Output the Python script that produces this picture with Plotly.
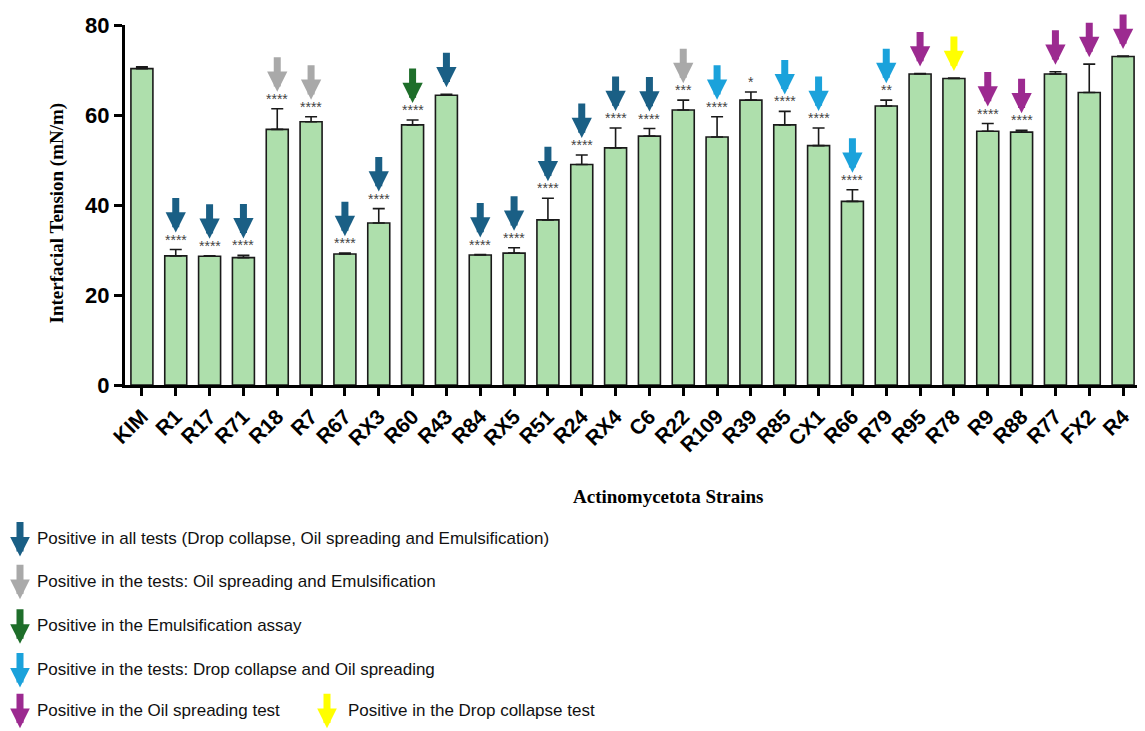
import plotly.graph_objects as go

strains = ["KIM", "R1", "R17", "R71", "R18", "R7", "R67", "RX3", "R60", "R43",
           "R84", "RX5", "R51", "R24", "RX4", "C6", "R22", "R109", "R39", "R85",
           "CX1", "R66", "R79", "R95", "R78", "R9", "R88", "R77", "FX2", "R4"]
means = [70.3, 28.7, 28.6, 28.3, 56.8, 58.5, 29.1, 36.0, 57.8, 64.4,
         28.9, 29.3, 36.7, 49.0, 52.7, 55.3, 61.1, 55.1, 63.3, 57.8,
         53.2, 40.8, 62.0, 69.1, 68.1, 56.4, 56.2, 69.1, 65.0, 73.0]
errs = [0.4, 1.4, 0.1, 0.5, 4.6, 1.1, 0.2, 3.2, 1.1, 0.2,
        0.1, 1.2, 4.8, 2.1, 4.4, 1.7, 2.2, 4.5, 1.8, 3.0,
        3.9, 2.6, 1.3, 0.1, 0.1, 1.7, 0.4, 0.5, 6.3, 0.1]
stars = ["", "****", "****", "****", "****", "****", "****", "****", "****", "",
         "****", "****", "****", "****", "****", "****", "***", "****", "*", "****",
         "****", "****", "**", "", "", "****", "****", "", "", ""]
arrows = [None, "all", "all", "all", "oil_emul", "oil_emul", "all", "all", "emul", "all",
          "all", "all", "all", "all", "all", "all", "oil_emul", "drop_oil", None, "drop_oil",
          "drop_oil", "drop_oil", "drop_oil", "oil", "drop", "oil", "oil", "oil", "oil", "oil"]

legend_keys = ["all", "oil_emul", "emul", "drop_oil", "oil", "drop"]
legend_labels = ["Positive in all tests (Drop collapse, Oil spreading and Emulsification)",
                 "Positive in the tests: Oil spreading and Emulsification",
                 "Positive in the Emulsification assay",
                 "Positive in the tests: Drop collapse and Oil spreading",
                 "Positive in the Oil spreading test",
                 "Positive in the Drop collapse test"]
arrow_colors = {"all": "#1a5f85", "oil_emul": "#a9a9a9", "emul": "#1e6e2a",
                "drop_oil": "#1ba2db", "oil": "#9c2a90", "drop": "#ffff00"}

OFF = 8  # default page body margin
W, H = 1145 - OFF, 731 - OFF
L, R, T, B = 125 - OFF, 5, 22 - OFF, 346
PW, PH = W - L - R, H - T - B

def px2x(px):
    return (px - OFF - L) / PW

def py2y(py):
    return (H - B - (py - OFF)) / PH

fig = go.Figure()
fig.add_trace(go.Bar(
    x=strains, y=means, width=0.65,
    marker=dict(color="#aedfac", line=dict(color="#1a1a1a", width=1.6)),
    error_y=dict(type="data", symmetric=False, array=errs,
                 arrayminus=[0] * len(errs), color="#1a1a1a", thickness=1.6, width=6),
    showlegend=False,
))

annotations = []
for s, m, e, st, a in zip(strains, means, errs, stars, arrows):
    top = m + e
    if st:
        annotations.append(dict(x=s, y=top, xref="x", yref="y", text=st, showarrow=False,
                                yanchor="bottom", yshift=0,
                                font=dict(family="Liberation Sans", size=14, color="#444444")))
    if a:
        so = 17 if st else 7
        annotations.append(dict(x=s, y=top, xref="x", yref="y", text="", showarrow=True,
                                ax=0, ay=-(so + 36), standoff=so, arrowhead=2,
                                arrowwidth=7, arrowsize=0.58, arrowcolor=arrow_colors[a]))

# legend
rows_y = [540, 583, 628, 672, 713, 713]
arrow_x = [20, 20, 20, 20, 20, 327]
text_x = [35, 35, 35, 35, 35, 346]
for k, lab, ry, axp, tx in zip(legend_keys, legend_labels, rows_y, arrow_x, text_x):
    annotations.append(dict(x=px2x(axp), y=py2y(ry + 18), xref="paper", yref="paper",
                            text="", showarrow=True, ax=0, ay=-36, arrowhead=2,
                            arrowwidth=7, arrowsize=0.56, arrowcolor=arrow_colors[k]))
    annotations.append(dict(x=px2x(tx), y=py2y(ry), xref="paper", yref="paper",
                            text=lab, showarrow=False, xanchor="left", yanchor="middle",
                            font=dict(family="Liberation Sans", size=17, color="#111111")))

annotations.append(dict(x=px2x(57), y=py2y(212), xref="paper", yref="paper",
                        text="<b>Interfacial Tension (mN/m)</b>", textangle=-90,
                        showarrow=False, xanchor="center", yanchor="middle",
                        font=dict(family="Liberation Serif", size=19, color="#000")))
annotations.append(dict(x=px2x(668), y=py2y(497), xref="paper", yref="paper",
                        text="<b>Actinomycetota Strains</b>",
                        showarrow=False, xanchor="center", yanchor="middle",
                        font=dict(family="Liberation Serif", size=19, color="#000")))

fig.update_layout(
    width=W, height=H,
    margin=dict(l=L, r=R, t=T, b=B, pad=0),
    plot_bgcolor="white", paper_bgcolor="white",
    annotations=annotations,
    xaxis=dict(range=[-0.5, len(strains) - 0.5], showline=True, linecolor="black",
               linewidth=3, ticks="outside", ticklen=8, tickwidth=2.5, tickcolor="black",
               tickangle=-45, showgrid=False,
               tickfont=dict(family="Liberation Sans", size=21, color="black", weight="bold")),
    yaxis=dict(range=[0, 80], tickvals=[0, 20, 40, 60, 80], showline=True, linecolor="black",
               linewidth=3, ticks="outside", ticklen=8, tickwidth=2.5, tickcolor="black",
               showgrid=False, zeroline=False,
               tickfont=dict(family="Liberation Sans", size=22, color="black", weight="bold")),
)

fig.write_html("out.html")
